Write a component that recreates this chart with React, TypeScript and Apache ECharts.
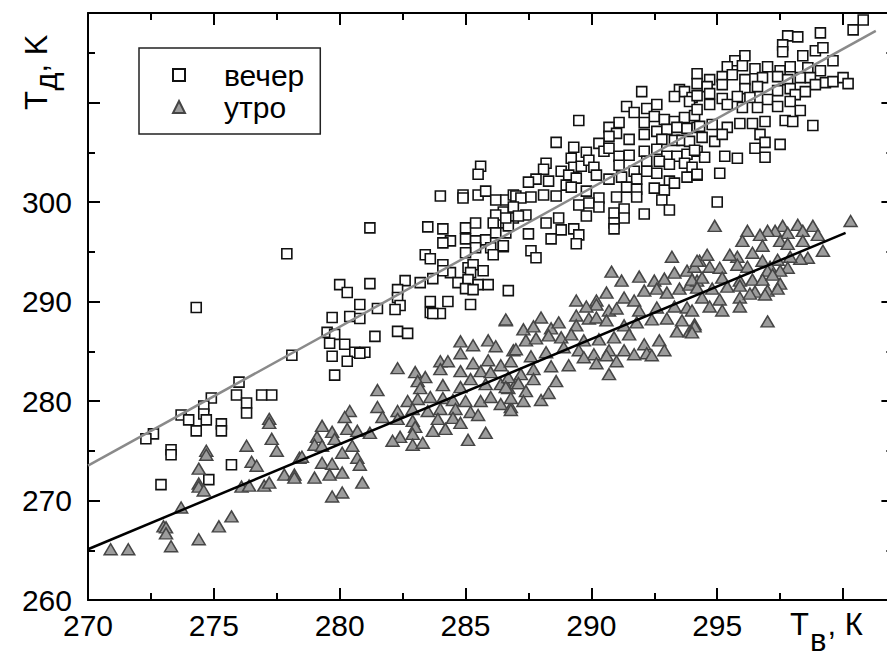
import React, { useEffect, useRef } from "react";
import * as echarts from "echarts";

// ---- tick labels ----
const xTickLabels = [270, 275, 280, 285, 290, 295];
const yTickLabels = [260, 270, 280, 290, 300];

// ---- series names ----
const eveningName = "вечер";
const morningName = "утро";

// ---- evening points (squares): [T_в, T_д] ----
const eveningPoints: number[][] = [
  [277.9,294.8],[274.3,289.4],[278.1,284.6],[276.0,281.9],[274.9,280.3],[275.9,280.6],[276.9,280.6],[277.3,280.6],
  [276.3,279.8],[276.3,278.8],[274.6,279.5],[274.6,278.7],[274.7,278.1],[273.7,278.6],[274.0,278.1],[274.3,277.0],
  [275.3,277.7],[275.3,277.0],[272.6,276.7],[272.3,276.2],[273.3,275.1],[273.3,274.6],[275.7,273.6],[274.8,272.1],
  [272.9,271.6],
  [285.6,303.6],[285.5,302.8],[284.0,300.6],[284.9,300.7],[284.9,300.4],[285.5,300.7],[285.8,301.1],[286.2,300.2],
  [286.6,300.2],[286.9,300.7],[286.5,299.0],[286.2,298.7],[286.9,298.4],[281.2,297.4],[283.5,297.5],[284.1,297.3],
  [285.0,297.4],[285.4,297.9],[286.1,297.9],[286.6,297.5],[284.4,296.1],[284.1,295.9],[285.0,296.3],[285.4,296.1],
  [285.8,296.2],[286.2,296.9],[286.6,296.9],[286.0,295.4],[286.5,295.5],[286.1,294.7],[285.4,295.4],[285.0,294.9],
  [283.4,294.7],[283.6,294.3],[284.1,293.7],[284.4,292.9],[284.1,293.1],[285.1,293.4],[285.3,293.7],[285.2,292.9],
  [285.7,293.1],[284.7,291.9],[285.1,292.2],[285.5,291.7],[285.9,291.7],[285.0,291.3],[285.3,291.2],[286.7,291.1],
  [285.2,289.7],[283.7,292.3],[283.2,291.9],[282.6,292.1],[282.3,291.2],[282.3,290.4],[282.4,289.6],[282.2,289.2],
  [281.2,291.8],[280.0,291.7],[280.3,290.9],[280.8,289.7],[281.5,289.3],[280.4,288.5],[280.8,288.3],[279.7,288.4],
  [279.5,286.9],[279.8,286.7],[281.4,286.5],[282.3,287.0],[282.7,286.8],[283.6,290.0],[283.6,288.9],[284.3,290.0],
  [284.0,288.8],[283.7,288.8],
  [279.6,285.8],[280.2,285.7],[280.6,284.9],[281.0,284.9],[280.8,284.8],[279.7,284.5],[280.3,284.0],[279.8,282.6],
  [294.2,312.9],[292.0,311.1],[293.5,311.3],[293.7,311.1],[293.3,310.6],[294.0,310.5],[291.4,309.6],[291.7,309.0],
  [292.2,309.4],[292.6,309.8],[293.9,310.1],[289.5,308.2],[291.1,308.0],[292.5,308.6],[292.9,308.3],[293.3,308.1],
  [293.7,308.5],[294.1,308.7],[292.1,308.0],[290.7,307.5],[291.0,306.9],[291.5,306.3],[290.7,306.6],[292.1,306.8],
  [292.6,307.1],[293.0,307.3],[293.4,307.5],[293.8,307.4],[294.2,307.5],[292.8,306.3],[293.3,306.2],[293.6,306.2],
  [293.9,306.1],[288.6,306.0],[289.3,305.5],[289.8,305.0],[290.3,305.9],[290.5,305.1],[290.7,305.4],[291.1,304.6],
  [291.5,304.7],[292.1,305.1],[292.6,305.3],[293.0,304.6],[293.4,304.6],[293.8,304.8],[294.2,305.1],[288.2,303.9],
  [288.1,303.3],[289.2,304.4],[289.3,303.5],[289.6,303.6],[289.9,304.2],[290.1,303.5],[291.1,303.7],[291.7,303.1],
  [292.2,304.1],[292.7,304.1],[293.1,303.8],[293.7,303.9],[294.0,303.5],[287.8,302.3],[287.5,302.0],[288.3,302.1],
  [288.8,303.1],[289.1,302.7],[289.0,301.7],[289.4,302.4],[290.2,302.7],[290.7,302.3],[291.2,302.5],[291.8,302.3],
  [292.2,303.1],[292.6,302.9],[293.1,302.1],[293.8,302.5],[294.2,302.7],[287.0,300.6],[287.2,300.4],[287.6,300.5],
  [288.1,300.7],[288.6,300.6],[289.2,301.5],[289.8,301.1],[290.3,300.4],[291.0,300.5],[291.4,301.5],[291.8,301.3],
  [292.5,301.4],[292.9,301.2],[293.3,301.9],[286.9,299.5],[287.4,298.7],[287.1,298.6],[286.7,297.6],[286.6,298.4],
  [289.5,299.7],[289.9,299.9],[289.8,298.6],[290.3,299.5],[290.9,298.9],[291.3,299.3],[291.3,298.4],[290.9,297.9],
  [290.9,297.3],[291.8,300.5],[292.1,298.8],[292.8,300.2],[293.1,299.2],[288.7,298.4],[288.2,297.9],[288.8,297.2],
  [289.3,297.3],[289.5,296.7],[289.4,295.8],[288.4,296.3],[287.5,296.8],[287.6,295.1],[287.8,294.4],[286.5,295.6],
  [300.8,318.3],[300.4,317.3],[299.1,317.0],[297.8,316.7],[298.2,316.6],[297.6,315.8],[297.6,315.1],[298.9,315.2],
  [299.2,315.5],[298.4,314.7],[299.6,314.2],[296.1,314.7],[295.7,314.2],[295.4,313.6],[296.0,313.7],[296.5,313.4],
  [297.0,313.6],[297.5,313.2],[297.9,313.6],[298.6,313.5],[299.1,313.2],[294.7,312.3],[295.2,312.6],[295.6,312.8],
  [296.1,312.3],[296.8,312.5],[297.4,312.6],[297.8,312.3],[298.3,312.5],[298.7,312.5],[299.3,312.0],[298.9,311.8],
  [299.6,312.1],[300.0,312.5],[300.2,311.9],[294.2,311.9],[294.6,311.6],[295.2,311.8],[296.1,311.4],[296.6,311.6],
  [297.4,311.2],[297.9,311.4],[298.5,311.1],[298.1,310.8],[294.2,310.7],[294.7,310.9],[295.2,310.4],[295.8,310.6],
  [296.3,310.5],[297.0,310.3],[297.4,309.6],[297.9,310.1],[298.3,309.2],[294.2,309.3],[294.7,309.8],[295.4,309.8],
  [296.0,309.5],[296.6,309.5],[297.7,308.2],[298.0,308.1],[298.8,307.7],[296.9,308.1],[296.4,307.9],[295.9,307.9],
  [295.4,307.5],[294.8,307.8],[294.3,307.6],[294.4,306.5],[294.9,306.1],[295.2,306.8],[296.7,306.8],[296.9,306.0],
  [297.5,305.8],[296.5,305.4],[296.9,304.5],[295.8,304.4],[295.3,304.6],[294.5,304.5],[294.1,305.2],[294.2,302.8],
  [295.1,302.9],[295.0,300.0]
];

// ---- morning points (triangles): [T_в, T_д] ----
const morningPoints: number[][] = [
  [270.9,265.1],[271.6,265.1],[273.3,265.4],[274.4,266.1],[273.0,267.4],[273.1,267.3],[273.1,266.7],[273.7,269.3],
  [275.2,267.4],[275.7,268.4],[274.4,273.2],[274.4,271.7],[274.4,271.4],[274.6,271.0],[274.7,275.0],[274.7,274.6],
  [276.3,275.5],[276.5,273.9],[276.7,273.5],[276.1,271.4],[276.4,271.5],[277.2,278.2],[277.2,277.8],[277.3,276.2],
  [277.5,275.0],[277.0,271.5],[277.2,271.8],[277.8,272.6],[278.2,272.6],[278.2,272.3],[278.4,274.3],
  [286.6,288.1],[282.3,283.3],[284.8,286.0],[285.3,285.6],[285.9,286.1],[286.2,285.5],[284.8,284.8],[284.0,284.0],
  [284.3,284.0],[284.0,283.2],[285.3,283.8],[285.9,284.1],[286.4,283.6],[286.9,285.1],[283.0,282.9],[283.4,282.4],
  [283.1,282.0],[284.8,283.0],[285.6,283.0],[286.0,282.9],[284.1,281.6],[285.2,282.2],[281.5,281.1],[283.2,281.3],
  [284.8,281.4],[285.8,281.7],[286.4,281.7],[286.7,281.3],[287.0,281.8],[282.7,280.0],[283.1,280.2],[283.6,280.4],
  [284.1,280.3],[284.5,280.1],[285.0,280.0],[285.6,280.0],[286.0,280.4],[286.4,279.7],[286.8,279.4],[281.5,279.4],
  [282.3,279.0],[282.9,279.2],[283.5,279.0],[284.0,279.2],[284.6,279.2],[285.2,278.9],[285.5,278.6],[280.4,279.0],
  [280.2,278.4],[281.7,278.4],[282.3,278.2],[282.9,278.0],[283.9,278.2],[284.5,278.3],[279.3,277.5],[280.3,277.2],
  [279.7,276.9],[280.7,277.0],[281.2,276.8],[283.0,277.4],[283.7,277.0],[284.2,277.2],[284.8,277.8],[285.8,276.8],
  [282.4,276.4],[282.9,276.7],[282.1,276.0],[282.9,275.6],[283.3,275.8],[285.1,276.1],[279.1,276.4],[279.8,276.2],
  [279.0,275.6],[279.3,275.5],[280.5,275.5],[280.1,274.8],[278.5,274.4],[279.3,273.8],[279.7,273.7],[280.7,274.3],
  [280.8,273.6],[280.1,272.8],[279.6,272.6],[279.0,272.3],[280.9,271.8],[280.1,270.8],[279.7,270.4],
  [293.2,294.5],[290.8,293.0],[291.2,292.1],[291.9,292.5],[292.5,292.1],[292.9,292.3],[293.3,292.9],[293.8,293.1],
  [294.1,293.5],[294.3,294.1],[290.6,290.9],[290.2,290.1],[290.2,289.7],[289.8,289.5],[289.4,290.1],[289.4,288.6],
  [291.3,290.4],[291.7,290.1],[292.1,291.1],[292.6,291.3],[293.0,290.9],[293.5,291.3],[293.9,291.7],[294.2,292.1],
  [288.0,288.4],[286.6,288.2],[287.3,287.2],[287.7,287.5],[288.4,287.3],[288.7,287.9],[289.4,287.6],[289.9,288.3],
  [290.7,289.1],[291.0,289.3],[291.9,289.1],[292.6,289.4],[293.3,289.5],[293.8,289.4],[290.2,288.4],[290.6,288.1],
  [291.3,287.6],[291.8,287.9],[292.4,288.2],[293.0,288.3],[293.6,288.1],[294.1,287.7],[287.0,285.2],[286.8,284.0],
  [287.4,286.1],[287.8,286.3],[288.3,286.6],[288.8,286.4],[289.2,286.7],[289.7,286.1],[290.3,286.2],[290.9,286.4],
  [291.5,286.7],[292.1,285.7],[292.7,286.1],[293.4,287.0],[293.9,287.0],[287.6,284.5],[288.2,284.9],[288.9,285.4],
  [289.5,285.1],[290.1,284.7],[290.7,285.1],[291.3,285.1],[292.2,284.8],[292.9,285.1],[292.4,284.6],[287.2,282.7],
  [286.7,282.4],[287.7,283.2],[288.4,283.5],[289.1,283.6],[289.7,284.4],[290.2,283.8],[291.0,284.0],[291.7,284.7],
  [290.6,284.6],[290.7,282.7],[288.6,282.0],[287.7,282.2],[287.1,281.8],[286.6,281.4],[287.4,281.0],[286.8,280.3],
  [287.3,280.0],[288.0,280.1],[288.3,280.8],[286.8,279.1],
  [300.3,298.1],[294.9,297.6],[298.2,297.7],[298.8,297.6],[297.6,297.6],[297.3,297.1],[297.0,297.1],[296.2,297.1],
  [296.7,296.7],[297.8,296.9],[298.4,297.1],[299.0,296.7],[296.0,296.1],[296.8,295.6],[297.5,296.1],[297.8,295.8],
  [298.4,296.1],[299.2,295.1],[298.6,294.4],[298.3,294.3],[296.4,294.9],[295.8,294.5],[295.5,294.7],[294.6,294.7],
  [294.2,294.1],[294.7,293.5],[295.1,293.4],[295.8,293.7],[296.2,293.5],[296.8,294.1],[297.4,294.2],[297.9,294.5],
  [297.1,293.5],[297.8,293.4],[297.0,293.1],[297.5,293.1],[294.0,292.2],[294.4,292.4],[295.2,292.4],[295.9,292.1],
  [296.4,292.2],[296.8,292.2],[297.2,292.7],[297.5,291.8],[294.2,291.4],[294.8,291.3],[295.4,291.5],[295.9,291.6],
  [296.5,291.0],[297.0,291.1],[297.4,291.3],[294.4,290.4],[295.1,290.2],[295.9,290.4],[296.3,290.8],[296.9,290.7],
  [294.7,289.5],[295.2,289.1],[295.9,289.5],[294.0,289.1],[294.1,287.5],[294.0,286.9],[297.0,288.0]
];

// ---- linear fit lines: endpoints [T_в, T_д] ----
const eveningFit: number[][] = [[270, 273.5], [301.3, 317.2]];
const morningFit: number[][] = [[270, 265.1], [300.1, 296.9]];

const FONT = "'Liberation Sans', Arial, Helvetica, sans-serif";

export default function App() {
  const ref = useRef<HTMLDivElement>(null);

  useEffect(() => {
    if (!ref.current) return;
    const chart = echarts.init(ref.current, undefined, { renderer: "svg" });

    const xMin = 270, xMax = 302, yMin = 260, yMax = 319;
    const lineStyle = { color: "#000", width: 2 };

    const xLabel = (v: number) => (xTickLabels.indexOf(v) >= 0 ? String(v) : "");
    const yLabel = (v: number) => (yTickLabels.indexOf(v) >= 0 ? String(v) : "");

    const mkX = (position: string, interval: number, tickLen: number, main: boolean, labels: boolean) => ({
      type: "value",
      gridIndex: 0,
      position,
      min: xMin,
      max: xMax,
      interval,
      axisLine: { show: main, onZero: false, lineStyle },
      axisTick: { show: true, inside: true, length: tickLen, lineStyle },
      axisLabel: {
        show: labels,
        formatter: xLabel,
        fontSize: 30,
        fontFamily: FONT,
        color: "#000",
        margin: 10,
      },
      splitLine: { show: false },
    });
    const mkY = (position: string, interval: number, tickLen: number, main: boolean, labels: boolean) => ({
      type: "value",
      gridIndex: 0,
      position,
      min: yMin,
      max: yMax,
      interval,
      axisLine: { show: main, onZero: false, lineStyle },
      axisTick: { show: true, inside: true, length: tickLen, lineStyle },
      axisLabel: {
        show: labels,
        formatter: yLabel,
        fontSize: 30,
        fontFamily: FONT,
        color: "#000",
        margin: 16,
      },
      splitLine: { show: false },
    });

    const gridW = 805.4;

    chart.setOption({
      animation: false,
      backgroundColor: "#fff",
      grid: {
        left: 88,
        top: 13,
        width: gridW,
        height: 587,
        containLabel: false,
        outerBoundsMode: "none",
      },
      xAxis: [
        mkX("bottom", 5, 12, true, true),
        mkX("top", 5, 12, true, false),
        mkX("bottom", 2.5, 7, false, false),
        mkX("top", 2.5, 7, false, false),
      ],
      yAxis: [
        mkY("left", 10, 12, true, true),
        mkY("right", 10, 12, true, false),
        mkY("left", 5, 7, false, false),
        mkY("right", 5, 7, false, false),
      ],
      legend: {
        data: [eveningName, morningName],
        orient: "vertical",
        left: 139,
        top: 48,
        padding: [12, 16, 12, 33],
        itemGap: 2,
        itemWidth: 12,
        itemHeight: 12,
        borderColor: "#222",
        borderWidth: 1.5,
        borderRadius: 0,
        textStyle: {
          fontSize: 30,
          fontFamily: FONT,
          color: "#000",
          lineHeight: 30,
          padding: [0, 0, 0, 34],
        },
      },
      graphic: [
        {
          type: "group",
          x: 36,
          y: 110,
          rotation: Math.PI / 2,
          children: [
            { type: "text", x: 0, y: 0, style: { text: "T", font: `31px ${FONT}`, fill: "#000", verticalAlign: "middle", align: "left" } },
            { type: "text", x: 19.5, y: 10, style: { text: "д", font: `31px ${FONT}`, fill: "#000", verticalAlign: "middle", align: "left", lineHeight: 24 } },
            { type: "text", x: 37.5, y: 0, style: { text: ", K", font: `31px ${FONT}`, fill: "#000", verticalAlign: "middle", align: "left" } },
          ],
        },
        {
          type: "group",
          x: 790,
          y: 624,
          children: [
            { type: "text", x: 0, y: 0, style: { text: "T", font: `31px ${FONT}`, fill: "#000", verticalAlign: "middle", align: "left" } },
            { type: "text", x: 20, y: 16, style: { text: "в", font: `31px ${FONT}`, fill: "#000", verticalAlign: "middle", align: "left", lineHeight: 22 } },
            { type: "text", x: 37.5, y: 0, style: { text: ", К", font: `31px ${FONT}`, fill: "#000", verticalAlign: "middle", align: "left" } },
          ],
        },
      ],
      series: [
        {
          name: eveningName,
          type: "scatter",
          xAxisIndex: 0,
          yAxisIndex: 0,
          data: eveningPoints,
          symbol: "rect",
          symbolSize: 10,
          itemStyle: { color: "#fff", borderColor: "#111", borderWidth: 1.6, opacity: 1 },
          z: 2,
        },
        {
          name: morningName,
          type: "scatter",
          xAxisIndex: 0,
          yAxisIndex: 0,
          data: morningPoints,
          symbol: "triangle",
          symbolSize: [13, 11],
          itemStyle: { color: "#9c9c9c", borderColor: "#454545", borderWidth: 1.5, opacity: 1 },
          z: 3,
        },
        {
          name: "fit-evening",
          type: "line",
          xAxisIndex: 0,
          yAxisIndex: 0,
          data: eveningFit,
          showSymbol: false,
          symbol: "none",
          lineStyle: { color: "#8a8a8a", width: 2.5 },
          z: 4,
          silent: true,
        },
        {
          name: "fit-morning",
          type: "line",
          xAxisIndex: 0,
          yAxisIndex: 0,
          data: morningFit,
          showSymbol: false,
          symbol: "none",
          lineStyle: { color: "#000", width: 2.5 },
          z: 4,
          silent: true,
        },
      ],
    });

    return () => chart.dispose();
  }, []);

  return (
    <div
      ref={ref}
      style={{ position: "fixed", left: 0, top: 0, width: 887, height: 656, background: "#fff" }}
    />
  );
}
